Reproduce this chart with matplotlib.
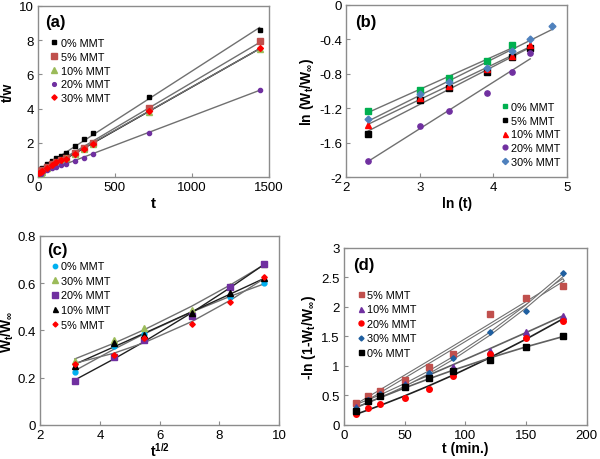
import numpy as np
import matplotlib
matplotlib.use("Agg")
import matplotlib.pyplot as plt

plt.rcParams["font.family"] = ["Liberation Sans", "DejaVu Sans"]
plt.rcParams["mathtext.fontset"] = "custom"
plt.rcParams["mathtext.rm"] = "Liberation Sans:bold"
plt.rcParams["mathtext.it"] = "Liberation Sans:bold"
plt.rcParams["mathtext.bf"] = "Liberation Sans:bold"
plt.rcParams["mathtext.default"] = "rm"
plt.rcParams["axes.unicode_minus"] = False

# (a) t/w vs t
t_a = [10, 20, 30, 60, 90, 120, 150, 180, 240, 300, 360, 720, 1440]
tw_0 = [0.35, 0.45, 0.55, 0.75, 0.93, 1.10, 1.25, 1.40, 1.80, 2.20, 2.60, 4.70, 8.62]
tw_5 = [0.25, 0.33, 0.42, 0.60, 0.75, 0.87, 1.00, 1.12, 1.38, 1.69, 2.00, 4.02, 7.92]
tw_10 = [0.12, 0.22, 0.32, 0.52, 0.70, 0.85, 0.98, 1.10, 1.35, 1.65, 1.95, 3.82, 7.50]
tw_20 = [0.15, 0.20, 0.27, 0.40, 0.50, 0.60, 0.68, 0.76, 0.93, 1.13, 1.34, 2.60, 5.08]
tw_30 = [0.22, 0.30, 0.38, 0.55, 0.70, 0.85, 0.97, 1.08, 1.32, 1.65, 1.95, 3.85, 7.52]

# (b) ln(Wt/Winf) vs ln(t)
lnt = [2.30, 3.00, 3.40, 3.91, 4.25, 4.50, 4.79]
lnw_0 = [-1.23, -0.99, -0.85, -0.65, -0.47]
lnw_5 = [-1.50, -1.10, -0.97, -0.78, -0.60, -0.50]
lnw_10 = [-1.39, -1.08, -0.94, -0.75, -0.59, -0.47]
lnw_20 = [-1.81, -1.41, -1.23, -1.02, -0.78, -0.56]
lnw_30 = [-1.32, -1.04, -0.90, -0.73, -0.54, -0.39, -0.24]

# (c) Wt/Winf vs t^1/2
sqt = [3.16, 4.47, 5.48, 7.07, 8.37, 9.49]
wr_0 = [0.223, 0.333, 0.385, 0.470, 0.543, 0.600]
wr_30 = [0.270, 0.360, 0.410, 0.487, 0.590, 0.683]
wr_20 = [0.185, 0.286, 0.360, 0.460, 0.585, 0.680]
wr_10 = [0.250, 0.347, 0.380, 0.473, 0.557, 0.620]
wr_5 = [0.260, 0.295, 0.368, 0.428, 0.520, 0.625]

# (d) -ln(1-Wt/Winf) vs t
t_d = [10, 20, 30, 50, 70, 90, 120, 150, 180]
nl_5 = [0.37, 0.49, 0.58, 0.755, 0.975, 1.21, 1.875, 2.15, 2.35]
nl_10 = [0.30, 0.42, 0.52, 0.70, 0.88, 0.98, 1.26, 1.58, 1.85]
nl_20 = [0.18, 0.28, 0.355, 0.45, 0.61, 0.835, 1.20, 1.48, 1.76]
nl_30 = [0.28, 0.42, 0.53, 0.67, 0.88, 1.14, 1.58, 1.93, 2.57]
nl_0 = [0.24, 0.41, 0.49, 0.635, 0.80, 0.92, 1.10, 1.32, 1.51]

fig = plt.figure(figsize=(6, 4.6), dpi=100)
ax_a = fig.add_axes([0.063, 0.613, 0.385, 0.372])
ax_b = fig.add_axes([0.577, 0.613, 0.368, 0.374])
ax_c = fig.add_axes([0.067, 0.074, 0.398, 0.411])
ax_d = fig.add_axes([0.573, 0.074, 0.405, 0.385])


def style(ax):
    for s in ax.spines.values():
        s.set_color("#8c8c8c")
        s.set_linewidth(1.0)
    ax.tick_params(direction="in", length=3, color="#8c8c8c", labelsize=9.5, pad=3)


def fit(ax, x, y, color="#707070", lw=1.0, deg=1):
    x = np.asarray(x, float)
    p = np.polyfit(x, y, deg)
    if deg == 1:
        xx = np.array([x.min(), x.max()])
    else:
        xx = x
    ax.plot(xx, np.polyval(p, xx), color=color, lw=lw, zorder=2)


def fit2(ax, x, y, deg=2):
    x = np.asarray(x, float)
    p = np.polyfit(x, y, deg)
    ax.plot(x, np.polyval(p, x), color="#707070", lw=2.6, zorder=2)
    ax.plot(x, np.polyval(p, x), color="white", lw=1.0, zorder=2)


def legend(ax, loc, anchor, spacing=0.35):
    ax.legend(loc=loc, bbox_to_anchor=anchor, frameon=False, fontsize=7.8,
              handlelength=0.6, handletextpad=0.3, labelspacing=spacing,
              borderaxespad=0.2, markerscale=0.9)


# panel a
style(ax_a)
series_a = [(tw_0, "0% MMT", "s", "black", 3.5),
            (tw_5, "5% MMT", "s", "#c0504d", 4.5),
            (tw_10, "10% MMT", "^", "#9bbb59", 4.5),
            (tw_20, "20% MMT", "o", "#7030a0", 3),
            (tw_30, "30% MMT", "D", "#ff0000", 3)]
for y, lab, m, c, ms in series_a:
    lc = "black" if lab == "10% MMT" else "#707070"
    fit(ax_a, [0] + t_a, [y[0] - 0.05] + y, color=lc)
    ax_a.plot(t_a, y, m, color=c, ms=ms, label=lab, zorder=3)
ax_a.set_xlim(0, 1500)
ax_a.set_ylim(0, 10)
ax_a.set_xticks([0, 500, 1000, 1500])
ax_a.set_yticks([0, 2, 4, 6, 8, 10])
ax_a.set_xlabel("t", fontsize=11, fontweight="bold", labelpad=2)
ax_a.set_ylabel("t/w", fontsize=10, fontweight="bold", labelpad=3)
ax_a.text(0.03, 0.95, "(a)", transform=ax_a.transAxes, fontsize=12,
          fontweight="bold", va="top")
legend(ax_a, "upper left", (0.03, 0.85))

# panel b
style(ax_b)
series_b = [(lnw_0, "0% MMT", "s", "#00b050", 3.8),
            (lnw_5, "5% MMT", "s", "black", 3.8),
            (lnw_10, "10% MMT", "^", "#ff0000", 4),
            (lnw_20, "20% MMT", "o", "#7030a0", 3.8),
            (lnw_30, "30% MMT", "D", "#4f81bd", 3.5)]
for y, lab, m, c, ms in series_b:
    x = lnt[:len(y)]
    fit(ax_b, x, y)
    ax_b.plot(x, y, m, color=c, ms=ms, label=lab, zorder=3)
ax_b.set_xlim(2, 5)
ax_b.set_ylim(-2, 0)
ax_b.set_xticks([2, 3, 4, 5])
ax_b.set_yticks([0, -0.4, -0.8, -1.2, -1.6, -2])
ax_b.set_yticklabels(["0", "-0.4", "-0.8", "-1.2", "-1.6", "-2"])
ax_b.set_xlabel("ln (t)", fontsize=10, fontweight="bold", labelpad=2)
ax_b.set_ylabel(r"ln (W$_t$/W$_\infty$)", fontsize=10, fontweight="bold", labelpad=2)
ax_b.text(0.04, 0.95, "(b)", transform=ax_b.transAxes, fontsize=12,
          fontweight="bold", va="top")
legend(ax_b, "lower right", (1.0, 0.02))

# panel c
style(ax_c)
series_c = [(wr_0, "0% MMT", "o", "#00b0f0", 3.5),
            (wr_30, "30% MMT", "^", "#9bbb59", 5),
            (wr_20, "20% MMT", "s", "#7030a0", 4.5),
            (wr_10, "10% MMT", "^", "black", 4),
            (wr_5, "5% MMT", "D", "#ff0000", 2.8)]
for y, lab, m, c, ms in series_c:
    lc = "#202020" if lab in ("20% MMT", "10% MMT") else "#707070"
    fit(ax_c, sqt, y, color=lc, deg=2)
    ax_c.plot(sqt, y, m, color=c, ms=ms, label=lab, zorder=3)
ax_c.set_xlim(2, 10)
ax_c.set_ylim(0, 0.8)
ax_c.set_xticks([2, 4, 6, 8, 10])
ax_c.set_yticks([0, 0.2, 0.4, 0.6, 0.8])
ax_c.set_yticklabels(["0", "0.2", "0.4", "0.6", "0.8"])
ax_c.set_xlabel(r"t$^{1/2}$", fontsize=10, fontweight="bold", labelpad=0)
ax_c.set_ylabel(r"W$_t$/W$_\infty$", fontsize=10, fontweight="bold", labelpad=1)
ax_c.text(0.03, 0.97, "(c)", transform=ax_c.transAxes, fontsize=12,
          fontweight="bold", va="top")
legend(ax_c, "upper left", (0.02, 0.90), spacing=0.42)

# panel d
style(ax_d)
series_d = [(nl_5, "5% MMT", "s", "#c0504d", 4),
            (nl_10, "10% MMT", "^", "#7030a0", 4),
            (nl_20, "20% MMT", "o", "#ff0000", 4),
            (nl_30, "30% MMT", "D", "#1f5fa0", 2.8),
            (nl_0, "0% MMT", "s", "black", 4)]
for y, lab, m, c, ms in series_d:
    if lab in ("5% MMT", "30% MMT"):
        fit2(ax_d, t_d, y)
    else:
        lc = "#202020" if lab == "20% MMT" else "#606060"
        fit(ax_d, t_d, y, color=lc, lw=1.2, deg=2)
    ax_d.plot(t_d, y, m, color=c, ms=ms, label=lab, zorder=3)
ax_d.set_xlim(0, 200)
ax_d.set_ylim(0, 3)
ax_d.set_xticks([0, 50, 100, 150, 200])
ax_d.set_yticks([0, 0.5, 1, 1.5, 2, 2.5, 3])
ax_d.set_yticklabels(["0", "0.5", "1", "1.5", "2", "2.5", "3"])
ax_d.set_xlabel("t (min.)", fontsize=10, fontweight="bold", labelpad=0)
ax_d.set_ylabel(r"-ln (1-W$_t$/W$_\infty$)", fontsize=10, fontweight="bold", labelpad=2)
ax_d.text(0.04, 0.95, "(d)", transform=ax_d.transAxes, fontsize=12,
          fontweight="bold", va="top")
legend(ax_d, "upper left", (0.03, 0.80), spacing=0.42)

fig.savefig("out.png", dpi=100)
